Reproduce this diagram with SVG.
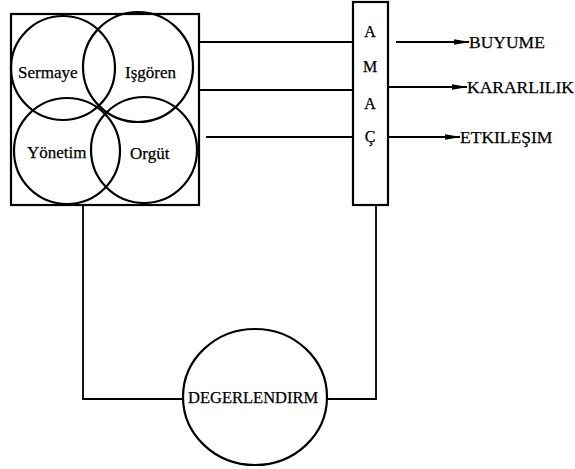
<svg xmlns="http://www.w3.org/2000/svg" width="575" height="469" viewBox="0 0 575 469">
<style>
.s{fill:none;stroke:#000;stroke-width:2.2}
.c{fill:none;stroke:#000;stroke-width:1.8}
text{font-family:"Liberation Serif","Times New Roman",serif;fill:#000;stroke:#000;stroke-width:0.25}
.t{font-size:17px}
.o{font-size:17.5px}
.l{font-size:16px;text-anchor:middle}
</style>
<defs>
<marker id="ah" markerWidth="16" markerHeight="8" refX="15" refY="4" orient="auto" markerUnits="userSpaceOnUse">
<path d="M0,1.2 L16,4 L0,6.8 Z" fill="#000"/>
</marker>
</defs>
<rect width="575" height="469" fill="#fff"/>
<g id="kaynaklar">
<rect class="s" x="11" y="14" width="188" height="191"/>
<circle class="s" cx="63" cy="68" r="52"/>
<circle class="s" cx="138" cy="67" r="55"/>
<circle class="s" cx="67" cy="151" r="53"/>
<circle class="s" cx="144" cy="150" r="53"/>
<text class="t" x="18" y="78">Sermaye</text>
<text class="t" x="125" y="78">Işgören</text>
<text class="t" x="27" y="158">Yönetim</text>
<text class="t" x="130" y="159">Orgüt</text>
</g>
<g id="amac">
<rect class="s" x="353" y="2" width="35" height="203"/>
<text class="l" x="370" y="37">A</text>
<text class="l" x="370" y="72">M</text>
<text class="l" x="370" y="109">A</text>
<text class="l" x="370" y="142">Ç</text>
</g>
<g id="degerlendirme">
<ellipse class="s" cx="255" cy="397" rx="72" ry="68"/>
<text x="188" y="403" font-size="16.5">DEGERLENDIRM</text>
</g>
<g id="hedefler">
<text class="o" x="469" y="48">BUYUME</text>
<text class="o" x="467" y="93">KARARLILIK</text>
<text class="o" x="460" y="143">ETKILEŞIM</text>
</g>
<g id="connectors">
<line class="c" x1="199" y1="42" x2="353" y2="42"/>
<line class="c" x1="199" y1="90" x2="353" y2="90"/>
<line class="c" x1="206" y1="137" x2="353" y2="137"/>
<line class="c" x1="396" y1="42" x2="469" y2="42" marker-end="url(#ah)"/>
<line class="c" x1="388" y1="87" x2="467" y2="87" marker-end="url(#ah)"/>
<line class="c" x1="388" y1="137" x2="460" y2="137" marker-end="url(#ah)"/>
<polyline class="c" points="83,205 83,399 183,399"/>
<polyline class="c" points="327,399 376,399 376,205"/>
</g>
</svg>
